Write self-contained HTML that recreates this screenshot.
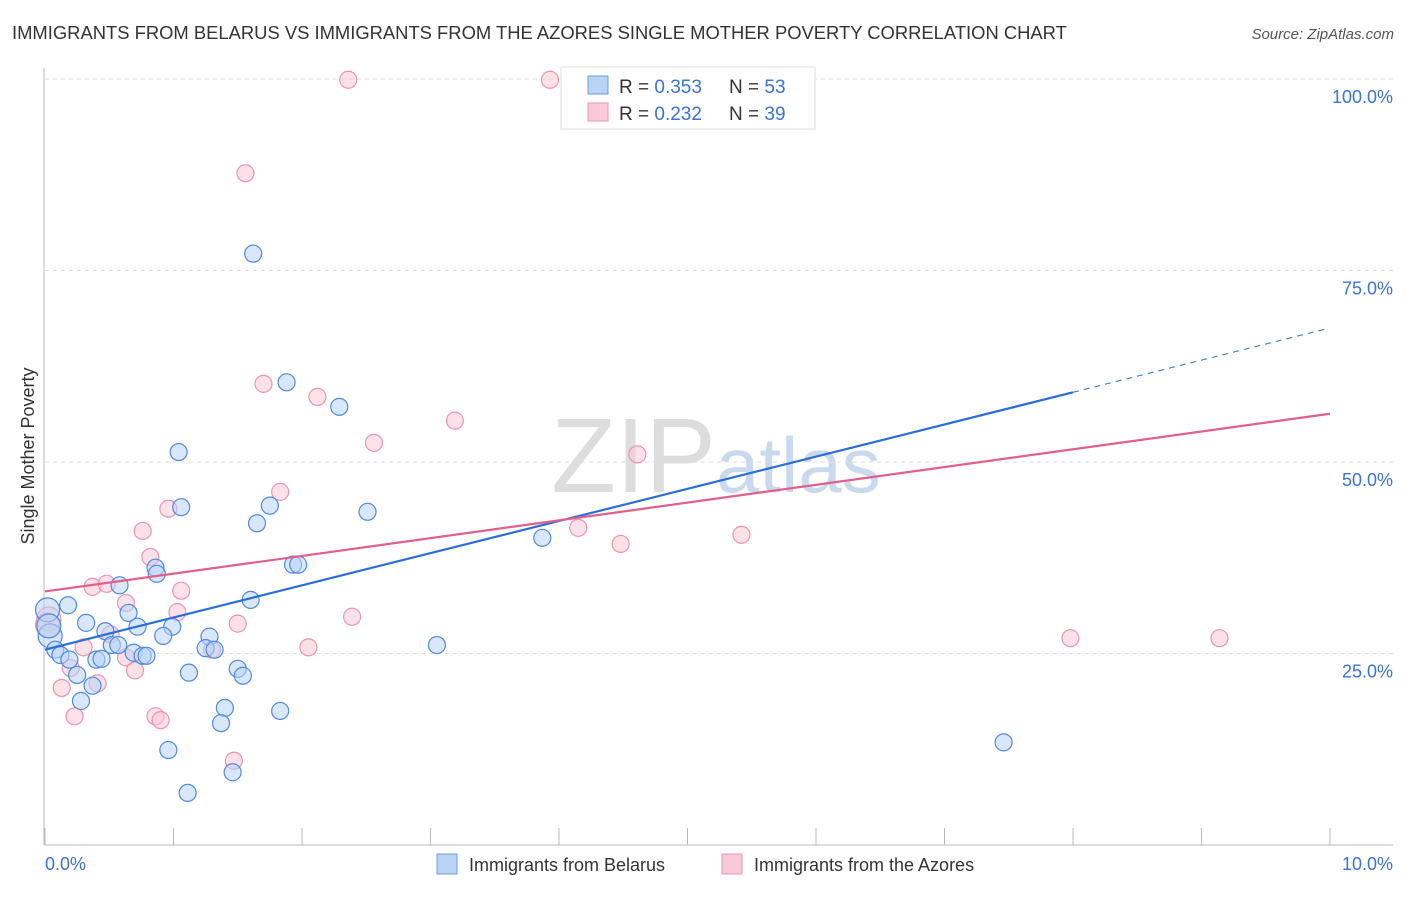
<!DOCTYPE html>
<html><head><meta charset="utf-8"><style>
body{margin:0;background:#fff;font-family:"Liberation Sans",sans-serif}
svg text{font-family:"Liberation Sans",sans-serif}
</style></head><body>
<svg id="c" width="1406" height="892">
<text x="12" y="39" font-size="18.4" fill="#333">IMMIGRANTS FROM BELARUS VS IMMIGRANTS FROM THE AZORES SINGLE MOTHER POVERTY CORRELATION CHART</text>
<text x="1394" y="39" font-size="15" fill="#555" text-anchor="end" font-style="italic">Source: ZipAtlas.com</text>
<text x="716" y="492" font-size="106" fill="#ddd" text-anchor="end" font-family="Liberation Serif">ZIP</text>
<text x="716" y="492" font-size="78" fill="#c9d9ee">atlas</text>
<text transform="translate(34,456) rotate(-90)" font-size="18" fill="#333" text-anchor="middle">Single Mother Poverty</text>
<g id="grid"></g><g id="pts"></g><g id="lines"></g>
<g>
<rect x="561" y="67" width="254" height="62" fill="#fff" stroke="#ddd"/>
<rect x="588" y="76" width="20" height="18" fill="#b8d3f5" stroke="#6a9ee0"/>
<rect x="588" y="103" width="20" height="18" fill="#f9c9d7" stroke="#e995b0"/>
<text x="619" y="93" font-size="19" fill="#333">R = <tspan fill="#3a72d8">0.353</tspan></text>
<text x="729" y="93" font-size="19" fill="#333">N = <tspan fill="#3a72d8">53</tspan></text>
<text x="619" y="120" font-size="19" fill="#333">R = <tspan fill="#3a72d8">0.232</tspan></text>
<text x="729" y="120" font-size="19" fill="#333">N = <tspan fill="#3a72d8">39</tspan></text>
</g>
<g>
<rect x="437" y="854" width="20" height="20" fill="#b8d3f5" stroke="#6a9ee0"/>
<text x="469" y="871" font-size="18" fill="#333">Immigrants from Belarus</text>
<rect x="722" y="854" width="20" height="20" fill="#f9c9d7" stroke="#e995b0"/>
<text x="754" y="871" font-size="18" fill="#333">Immigrants from the Azores</text>
</g>
</svg>
<script>
const yTicks=[25,50,75,100];
const yTickLabels=["25.0%","50.0%","75.0%","100.0%"];
const xTicks=[0,1,2,3,4,5,6,7,8,9,10];
const blueX=[5.74,1.62,1.88,2.29,1.04,1.06,1.75,1.65,2.51,3.87,0.86,0.87,1.93,1.97,0.58,1.60,0.18,0.02,0.65,0.32,0.72,0.99,0.47,0.92,1.28,0.04,0.52,0.57,3.05,1.25,1.32,0.08,0.12,0.69,0.76,0.79,0.40,0.44,0.19,1.50,1.54,0.25,1.12,0.37,1.40,0.28,1.37,1.83,0.96,1.46,1.11,7.46,0.03];
const blueY=[99.9,77.2,60.4,57.2,51.3,44.1,44.3,42.0,43.5,40.1,36.2,35.4,36.6,36.6,33.9,32.0,31.3,30.7,30.3,29.0,28.5,28.5,27.9,27.3,27.2,27.3,26.1,26.1,26.1,25.7,25.5,25.5,24.8,25.1,24.7,24.7,24.2,24.3,24.2,23.0,22.1,22.2,22.5,20.8,17.9,18.8,15.9,17.5,12.4,9.5,6.8,13.4,28.6];
const pinkX=[2.36,3.93,1.56,1.70,2.12,2.56,3.19,4.61,0.96,1.83,0.76,0.82,4.15,4.48,5.42,1.06,0.37,0.48,0.63,1.03,2.39,1.50,0.51,0.03,0.30,1.30,2.05,0.63,0.20,0.70,0.41,0.13,0.86,0.90,0.23,1.47,7.98,9.14,0.02];
const pinkY=[99.9,99.9,87.7,60.2,58.5,52.5,55.4,51.0,43.9,46.1,41.0,37.6,41.4,39.3,40.5,33.2,33.7,34.1,31.6,30.4,29.8,28.9,27.5,29.5,25.8,25.5,25.8,24.5,23.1,22.8,21.1,20.5,16.8,16.3,16.8,11.0,27.0,27.0,28.7];
const blueFit=[25.5,4.2];
const pinkFit=[33.1,2.32];
const sx=v=>45+v*128.5, sy=v=>845-v*7.66;
const NS="http://www.w3.org/2000/svg";
function mk(t,a,p){const e=document.createElementNS(NS,t);for(const k in a)e.setAttribute(k,a[k]);p.appendChild(e);return e;}
const g=document.getElementById('grid');
yTicks.forEach((v,i)=>{
 const l=mk('line',{x1:45,x2:1393,y1:sy(v),y2:sy(v),stroke:'#ddd','stroke-dasharray':'4,4'},g);
 
 
 const t=mk('text',{x:1393,y:sy(v)+24,'font-size':18,fill:'#3a72d8','text-anchor':'end'},g);t.textContent=yTickLabels[i];
 
 
});
mk('line',{x1:44,x2:44,y1:68,y2:845,stroke:'#bbb'},g);
mk('line',{x1:44,x2:1393,y1:845,y2:845,stroke:'#bbb'},g);
xTicks.forEach(v=>{const l=mk('line',{x1:sx(v),x2:sx(v),y1:828,y2:845,stroke:'#bbb'},g);
 
 });
let t=mk('text',{x:45,y:870,'font-size':18,fill:'#3a72d8'},g);t.textContent='0.0%';


t=mk('text',{x:1393,y:870,'font-size':18,fill:'#3a72d8','text-anchor':'end'},g);t.textContent='10.0%';


const p=document.getElementById('pts');
function dots(X,Y,f,s,name){X.forEach((x,i)=>{const r=(x<0.05)?12:8.5;
 const c=mk('circle',{cx:sx(x),cy:sy(Y[i]),r:r,fill:f,'fill-opacity':0.55,stroke:s,'stroke-width':1.2},p);
 
 });}
dots(pinkX,pinkY,'#f9c9d7','#e995b0','azores-point');
dots(blueX,blueY,'#b8d3f5','#4f8ae0','belarus-point');
const L=document.getElementById('lines');
const fy=(f,x)=>f[0]+f[1]*x;
let l=mk('line',{x1:sx(0),y1:sy(fy(blueFit,0)),x2:sx(8),y2:sy(fy(blueFit,8)),stroke:'#2a6fd6','stroke-width':2.2},L);


l=mk('line',{x1:sx(8),y1:sy(fy(blueFit,8)),x2:sx(9.96),y2:sy(fy(blueFit,9.96)),stroke:'#2a6fd6','stroke-width':1,'stroke-dasharray':'6,5'},L);


l=mk('line',{x1:sx(0),y1:sy(fy(pinkFit,0)),x2:sx(10),y2:sy(fy(pinkFit,10)),stroke:'#e0608a','stroke-width':2.2},L);


</script>
</body></html>
